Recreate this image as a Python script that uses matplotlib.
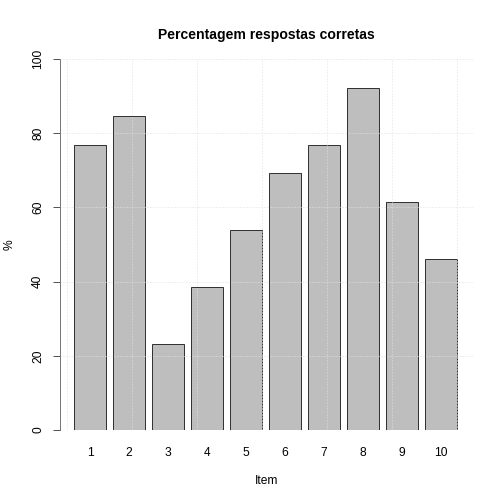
import matplotlib
matplotlib.use("Agg")
import matplotlib.pyplot as plt
import numpy as np

# dados: percentagem de respostas corretas por item
itens = ["1", "2", "3", "4", "5", "6", "7", "8", "9", "10"]
percent = [76.9, 84.6, 23.1, 38.5, 53.8, 69.2, 76.9, 92.3, 61.5, 46.2]

plt.rcParams["font.family"] = ["Liberation Sans", "DejaVu Sans"]

fig = plt.figure(figsize=(7, 7), dpi=72)
ax = fig.add_axes([60 / 504, 74 / 504, 413 / 504, 371 / 504])

# posições estilo barplot do R (largura 1, espaço 0.2)
pos = 0.7 + 1.2 * np.arange(len(itens))
ax.bar(pos, percent, width=1.0, color="#BEBEBE", edgecolor="#333333",
       linewidth=1.0, zorder=2)

ax.set_xlim(-0.23, 12.48)
ax.set_ylim(0, 100)

ax.set_xticks(pos)
ax.set_xticklabels(itens, fontsize=12)
ax.set_xticks(np.arange(0, 13, 2), minor=True)
ax.tick_params(axis="x", which="both", length=0, pad=17)
ax.set_yticks(np.arange(0, 101, 20))
ax.set_yticklabels([str(v) for v in range(0, 101, 20)], fontsize=12,
                   rotation=90, va="center")
ax.tick_params(axis="y", length=7, width=1, pad=9, color="#555555")

grade = dict(color="#E0E0E0", linestyle=(0, (1, 2)), linewidth=1, zorder=3)
ax.grid(which="minor", axis="x", **grade)
ax.grid(which="major", axis="y", **grade)
ax.grid(which="major", axis="x", visible=False)
ax.set_axisbelow(False)

for s in ["top", "right", "bottom"]:
    ax.spines[s].set_visible(False)
ax.spines["left"].set_color("#555555")

ax.set_title("Percentagem respostas corretas", fontsize=14, fontweight="bold", pad=20)
ax.set_xlabel("Item", fontsize=12, labelpad=16)
ax.set_ylabel("%", fontsize=12, labelpad=16)

fig.savefig("out.png", dpi=72)
